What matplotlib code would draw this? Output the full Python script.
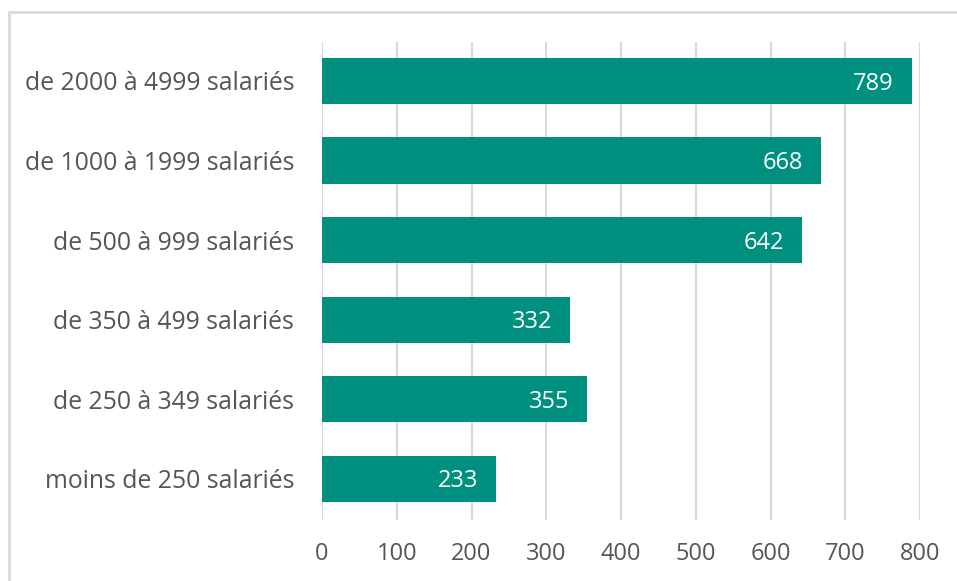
import matplotlib.pyplot as plt
from matplotlib.patches import Rectangle

categories = ["moins de 250 salariés", "de 250 à 349 salariés", "de 350 à 499 salariés",
              "de 500 à 999 salariés", "de 1000 à 1999 salariés", "de 2000 à 4999 salariés"]
values = [233, 355, 332, 642, 668, 789]
xticks = [0, 100, 200, 300, 400, 500, 600, 700, 800]

plt.rcParams['font.family'] = ['Open Sans', 'DejaVu Sans']

fig = plt.figure(figsize=(9.57, 5.81), dpi=100)
ax = fig.add_axes([322 / 957, 1 - 520 / 581, 598 / 957, 478 / 581])

# light frame around the chart
fig.patches.append(Rectangle((9 / 957, -0.1), 1.2, 1 - 12 / 581 + 0.1, transform=fig.transFigure,
                             fill=False, edgecolor='#d9d9d9', linewidth=2))

y = range(len(categories))
ax.barh(y, values, height=0.58, color='#00907f', zorder=3)
for i, v in enumerate(values):
    ax.annotate(str(v), (v, i), xytext=(-13, -2), textcoords='offset points',
                ha='right', va='center', color='white', fontsize=17, zorder=4)

ax.set_xlim(0, 800)
ax.set_ylim(-0.52, 5.49)
ax.set_xticks(xticks)
ax.set_yticks(list(y))
ax.set_yticklabels(categories)
ax.tick_params(axis='x', length=0, pad=16, labelsize=17, labelcolor='#555555')
ax.tick_params(axis='y', length=0, pad=20, labelsize=17.8, labelcolor='#555555')
ax.grid(axis='x', color='#d9d9d9', linewidth=1.5, zorder=0)
for s in ax.spines.values():
    s.set_visible(False)

plt.savefig("out.png", dpi=100)
